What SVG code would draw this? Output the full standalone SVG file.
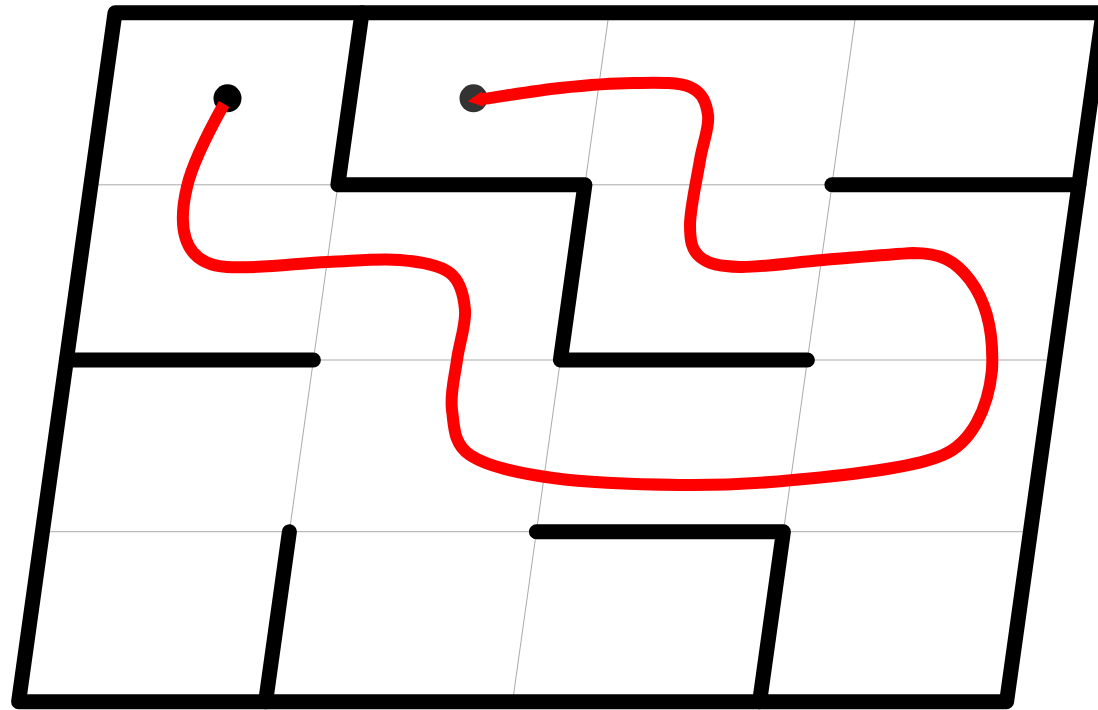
<svg xmlns="http://www.w3.org/2000/svg" width="1098" height="710" viewBox="0 0 1098 710">
<style>
.grid{stroke:#aaaaaa;stroke-width:1;fill:none}
.wall{stroke:#000;stroke-width:15;fill:none;stroke-linecap:round;stroke-linejoin:round}
.route{stroke:#ff0000;stroke-width:12;fill:none;stroke-linecap:butt;stroke-linejoin:round}
</style>
<defs>
<marker id="tip" viewBox="0 0 10 10" refX="2" refY="5" markerWidth="1.3" markerHeight="1.3" orient="auto" markerUnits="strokeWidth">
<path d="M0,0 L10,5 L0,10 z" fill="#ff0000"/>
</marker>
</defs>
<rect width="1098" height="710" fill="#fff"/>
<g id="grid">
<line class="grid" x1="362" y1="12.8" x2="265.6" y2="701.7"/>
<line class="grid" x1="609" y1="12.8" x2="512.6" y2="701.7"/>
<line class="grid" x1="856" y1="12.8" x2="759.6" y2="701.7"/>
<line class="grid" x1="90.9" y1="184.8" x2="1078.9" y2="184.8"/>
<line class="grid" x1="66.4" y1="360" x2="1054.4" y2="360"/>
<line class="grid" x1="42.4" y1="531.7" x2="1030.4" y2="531.7"/>
</g>
<g id="walls">
<path id="border" class="wall" d="M115,12.8 L1103,12.8 L1006.6,701.7 L18.6,701.7 Z"/>
<path id="wall-a" class="wall" d="M362,12.8 L337.9,184.8 L584.9,184.8 L560.4,360 L807.4,360"/>
<path id="wall-b" class="wall" d="M831.9,184.8 L1078.9,184.8"/>
<path id="wall-c" class="wall" d="M66.4,360 L313.4,360"/>
<path id="wall-d" class="wall" d="M289.4,531.7 L265.6,701.7"/>
<path id="wall-e" class="wall" d="M536.4,531.7 L783.4,531.7 L759.6,701.7"/>
</g>
<g id="start"><circle cx="227.5" cy="98.3" r="14" fill="#000"/></g>
<g id="goal"><circle cx="473.5" cy="98.3" r="14" fill="#333"/></g>
<g id="connectors">
<path class="route" marker-end="url(#tip)" d="M224,104 C214,122 192.3,162.7 187,187 C179,220 178,264 227,267 C257,269 298.2,263.2 327,262 C355.8,260.8 379.5,258.2 400,260 C420.5,261.8 439.2,264.7 450,273 C460.8,281.3 463.8,295.5 465,310 C466.2,324.5 459.2,343.3 457,360 C454.8,376.7 449.8,394.2 452,410 C454.2,425.8 453.2,443.8 470,455 C486.8,466.2 518,473.3 553,478 C588,482.7 640,484.5 680,485 C720,485.5 749.7,484.3 793,480 C860,474 915,467 943,455 C971,443 988,410 992,370 C994,330 985,300 970,280 C955,260 940,253 913,253 C890.2,254.2 851.8,257.7 823,260 C794.2,262.3 760.5,267.5 740,267 C719.5,266.5 708.3,264 700,257 C691.7,250 690,241.2 690,225 C690,208.8 697,178.3 700,160 C703,141.7 709.7,127.2 708,115 C706.3,102.8 702.5,92.3 690,87 C677.5,81.7 654.7,82.8 633,83 C611.3,83.2 586.3,85.2 560,88 C533.7,90.8 495,97.5 480,99.5"/>
</g>
</svg>
